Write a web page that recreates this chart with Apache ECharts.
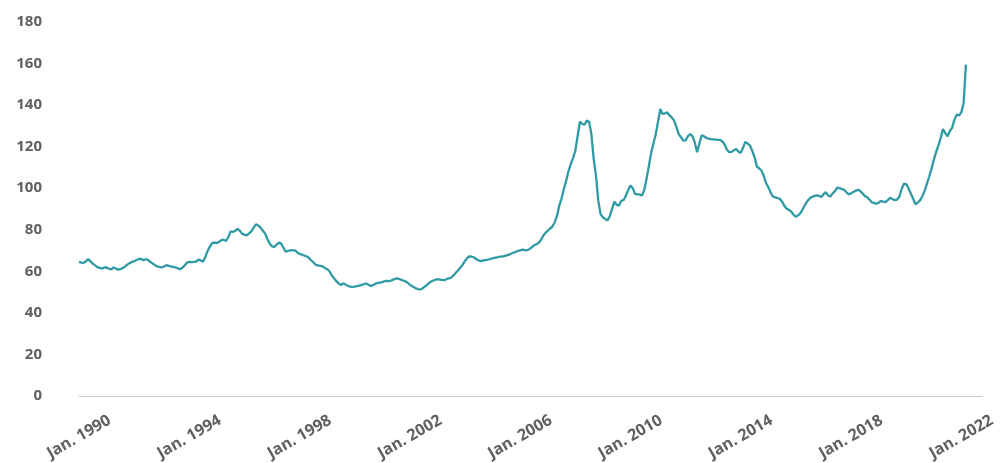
<!DOCTYPE html>
<html>
<head>
<meta charset="utf-8">
<script src="https://cdn.jsdelivr.net/npm/echarts@6/dist/echarts.min.js"></script>
<style>
  html, body { margin: 0; padding: 0; background: #ffffff; }
  #chart { width: 1004px; height: 463px; }
</style>
</head>
<body>
<div id="chart"></div>
<script>
// Monthly index values (Jan 1990 – Mar 2022)
const values1990s = [
  64.5, 64.2, 64.0, 64.8, 65.8, 64.8, 63.7, 62.8, 62.0, 61.6, 61.3, 61.8,
  61.8, 61.2, 60.9, 61.8, 61.3, 60.8, 61.0, 61.6, 62.2, 63.2, 63.9, 64.5,
  64.8, 65.4, 65.9, 66.0, 65.3, 65.8, 65.4, 64.6, 63.7, 63.0, 62.3, 62.1,
  61.8, 62.3, 62.9, 62.6, 62.3, 62.1, 61.8, 61.4, 61.0, 61.7, 62.8, 64.2,
  64.5, 64.4, 64.5, 64.6, 65.6, 65.2, 64.5, 67.0, 69.8, 72.0, 73.6, 73.8,
  73.6, 74.2, 75.0, 75.2, 74.6, 76.5, 79.2, 78.9, 79.5, 80.4, 79.5, 78.0,
  77.6, 77.3, 78.2, 79.2, 81.0, 82.6, 82.0, 81.0, 79.5, 78.2, 75.5, 73.3,
  72.0, 71.7, 72.8, 73.8, 73.3, 71.2, 69.5, 69.8, 70.1, 70.0, 70.1, 69.0,
  68.4, 68.0, 67.6, 67.2, 66.5, 65.3, 64.3, 63.1, 62.8, 62.6, 62.4, 61.6,
  61.0, 60.0, 58.0, 56.6, 55.2, 54.2, 53.3, 54.2, 53.6, 53.0, 52.6, 52.5
];
const values2000s = [
  52.6, 52.8, 53.1, 53.4, 53.8, 54.1, 53.5, 52.9, 53.3, 54.0, 54.4, 54.5,
  54.8, 55.2, 55.3, 55.2, 55.6, 56.1, 56.5, 56.4, 56.0, 55.5, 55.2, 54.5,
  53.5, 52.8, 52.2, 51.6, 51.2, 51.4, 52.2, 53.0, 54.0, 54.9, 55.4, 55.9,
  56.2, 56.0, 55.8, 55.7, 56.3, 56.6, 57.0, 58.0, 59.3, 60.5, 61.8, 63.2,
  65.0, 66.4, 67.2, 67.0, 66.6, 65.8, 65.2, 64.9, 65.2, 65.4, 65.6, 65.9,
  66.2, 66.5, 66.7, 67.0, 67.1, 67.3, 67.6, 67.9, 68.4, 68.9, 69.3, 69.8,
  70.0, 70.4, 70.2, 70.1, 70.6, 71.5, 72.5, 73.0, 73.6, 75.0, 77.0, 78.5,
  79.5, 80.5, 81.5, 83.5, 86.5, 91.5, 95.0, 99.5, 103.5, 108.0, 111.5, 114.5,
  118.0, 125.0, 132.0, 131.0, 130.5, 132.5, 132.0, 126.0, 114.0, 106.0, 94.0, 87.5,
  86.0, 85.2, 84.5, 86.5, 90.0, 93.5, 92.0, 91.5, 94.0, 94.2, 96.5, 99.0
];
const values2010s = [
  101.3, 100.0, 97.3, 97.0, 97.0, 96.5, 99.0, 104.5, 110.5, 117.0, 121.5, 126.0,
  132.0, 138.1, 135.7, 136.0, 136.5, 135.0, 134.0, 132.5, 129.5, 126.0, 124.5, 122.9,
  123.0, 125.0, 126.0, 125.0, 122.0, 117.3, 121.5, 125.5, 125.0, 124.2, 123.8, 123.6,
  123.5, 123.4, 123.3, 123.2, 122.5, 121.0, 118.5, 117.3, 117.5, 118.2, 118.9, 117.5,
  117.0, 119.5, 122.2, 121.5, 120.5, 118.0, 115.0, 110.5, 109.5, 108.5, 106.0, 102.5,
  100.5, 98.0, 96.0, 95.6, 95.2, 94.9, 93.5, 91.5, 90.1, 89.5, 88.7, 87.2,
  86.2, 86.9, 88.0, 90.0, 92.0, 93.8, 95.0, 95.8, 96.2, 96.5, 96.3, 95.7,
  97.0, 98.1, 96.5, 96.0, 97.5, 98.6, 100.2, 100.0, 99.6, 99.2, 98.0, 97.0,
  97.5, 98.1, 98.8, 99.2, 98.6, 97.5, 96.2, 95.6, 94.5, 93.2, 92.9, 92.5,
  93.0, 93.8, 93.5, 93.3, 94.2, 95.4, 94.8, 94.2, 94.5, 95.7, 99.5, 102.1
];
const values2020s = [
  102.0, 100.0, 97.5, 95.0, 92.2, 93.0, 94.1, 96.0, 98.5, 102.1, 105.5, 109.3,
  113.5, 117.3, 120.5, 124.0, 128.5, 126.5, 125.0, 127.5, 129.0, 133.0, 135.4, 135.0,
  136.5, 141.0, 159.5
];

// Axis: monthly categories Jan 1990 – Oct 2022; labelled every four years
const startYear = 1990, endYear = 2022, endMonth = 10;
const tickLabels = ['Jan. 1990', 'Jan. 1994', 'Jan. 1998', 'Jan. 2002', 'Jan. 2006',
                    'Jan. 2010', 'Jan. 2014', 'Jan. 2018', 'Jan. 2022'];
const yTicks = { min: 0, max: 180, interval: 20 };

const categories = [];
for (let y = startYear; y <= endYear; y++) {
  for (let m = 1; m <= 12; m++) {
    if (y === endYear && m > endMonth) break;
    categories.push(y + '-' + (m < 10 ? '0' + m : m));
  }
}
const values = values1990s.concat(values2000s, values2010s, values2020s);

function labelFor(cat) {
  return 'Jan. ' + cat.slice(0, 4);
}

const chart = echarts.init(document.getElementById('chart'), null, { renderer: 'canvas' });
chart.setOption({
  animation: false,
  backgroundColor: '#ffffff',
  grid: { left: 79, right: 22, top: 22, bottom: 67, containLabel: false },
  xAxis: {
    type: 'category',
    data: categories,
    boundaryGap: false,
    axisLine: { show: true, lineStyle: { color: '#cccccc', width: 1 } },
    axisTick: { show: false },
    splitLine: { show: false },
    axisLabel: {
      interval: function (index, value) {
        return value.slice(5) === '01' && tickLabels.indexOf(labelFor(value)) >= 0;
      },
      formatter: function (value) { return labelFor(value); },
      rotate: 30,
      align: 'center',
      verticalAlign: 'middle',
      margin: 41,
      color: '#606060',
      fontFamily: 'Open Sans',
      fontWeight: 'bold',
      fontSize: 16
    }
  },
  yAxis: {
    type: 'value',
    min: yTicks.min,
    max: yTicks.max,
    interval: yTicks.interval,
    axisLine: { show: false },
    axisTick: { show: false },
    splitLine: { show: false },
    axisLabel: {
      margin: 37,
      color: '#606060',
      fontFamily: 'Open Sans',
      fontWeight: 'bold',
      fontSize: 15
    }
  },
  series: [{
    type: 'line',
    data: values,
    showSymbol: false,
    symbol: 'none',
    smooth: false,
    lineStyle: { color: '#2f9aa3', width: 2.3 },
    itemStyle: { color: '#2f9aa3' }
  }]
});
</script>
</body>
</html>
